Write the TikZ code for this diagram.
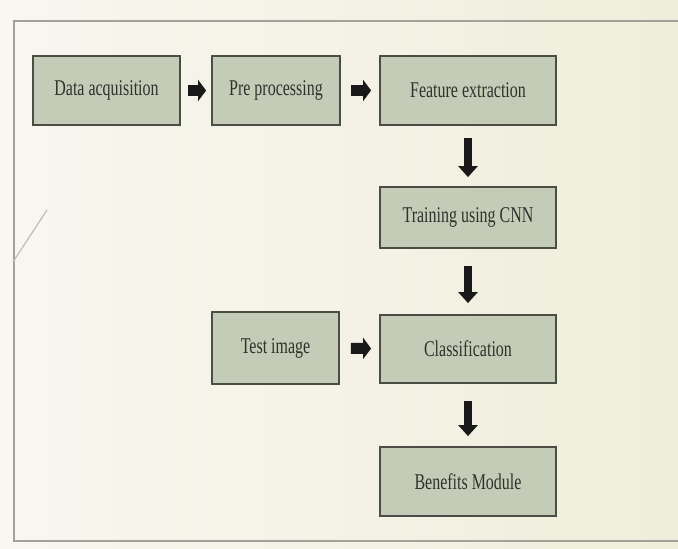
\documentclass[tikz,border=0pt]{standalone}
\usepackage{fontspec}
\setmainfont[FakeStretch=0.71]{Liberation Serif}
\usetikzlibrary{arrows.meta}
\definecolor{boxfill}{HTML}{C4CCB7}
\definecolor{boxline}{HTML}{4C4D44}
\definecolor{boxtext}{HTML}{2F332C}
\definecolor{framegray}{HTML}{A2A29A}
\definecolor{bgleft}{HTML}{F8F7F0}
\definecolor{bgright}{HTML}{EFEEDB}
\tikzset{
  stage/.style = {rectangle, draw=boxline, fill=boxfill, line width=1.8pt, inner sep=0pt,
                  text=boxtext, font=\fontsize{22.5}{24}\selectfont, minimum width=176pt, minimum height=69pt},
  flow/.style = {draw=black!90, line width=8pt, -{Triangle[length=11pt,width=19pt]}},
  rflow/.style = {flow, line width=11pt, -{Triangle[length=8pt,width=21pt]}},
}

\begin{document}
\begin{tikzpicture}[x=1pt,y=-1pt]
\shade[left color=bgleft, right color=bgright] (0,0) rectangle (678,549);
\useasboundingbox (0,0) rectangle (678,549);
% frame of the slide
\draw[framegray, line width=1.8pt] (678,21) -- (14,21) -- (14,541) -- (678,541);
\draw[framegray!70, line width=1.2pt] (47,210) -- (13,262);

\node [stage, minimum width=147pt] (acq) at (106.5,90.5) {Data acquisition};
\node [stage, minimum width=128pt] (pre) at (276,90.5) {Pre processing};
\node [stage] (feat) at (468,90.5) {Feature extraction};
\node [stage, minimum height=61pt] (train) at (468,217.5) {Training using CNN};
\node [stage, minimum width=127pt, minimum height=72pt] (test) at (275.5,348) {Test image};
\node [stage, minimum height=68pt] (cls) at (468,349) {Classification};
\node [stage] (bene) at (468,481.5) {Benefits Module};

\draw [rflow, shorten <=7pt, shorten >=5pt] (acq) -- (pre);
\draw [rflow, shorten <=10pt, shorten >=8pt] (pre) -- (feat);
\draw [rflow, shorten <=11pt, shorten >=8pt] (test) -- (cls);
\draw [flow, shorten <=12pt, shorten >=9pt] (feat) -- (train);
\draw [flow, shorten <=17pt, shorten >=11pt] (train) -- (cls);
\draw [flow, shorten <=17pt, shorten >=10pt] (cls) -- (bene);
\end{tikzpicture}
\end{document}
